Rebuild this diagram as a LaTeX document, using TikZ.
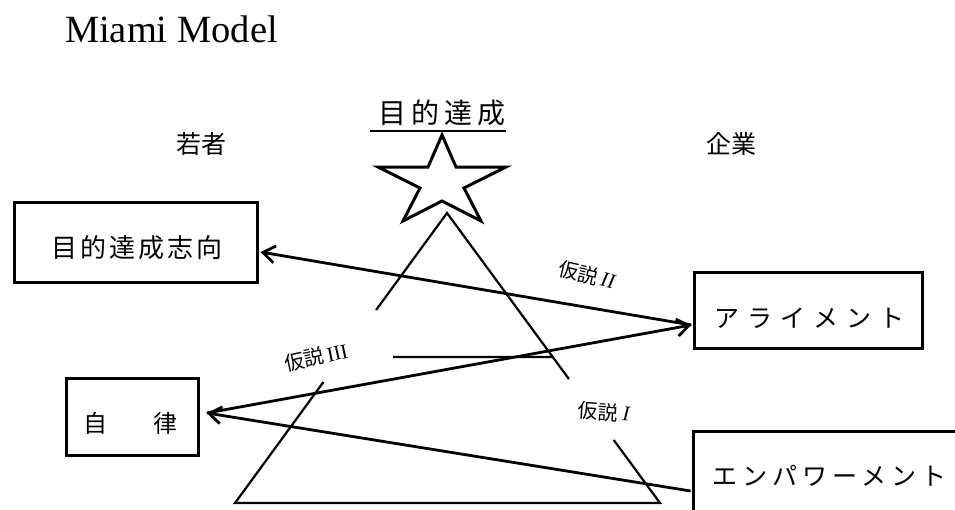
\documentclass[tikz,border=0pt]{standalone}
\usepackage{fontspec}
\setmainfont{Liberation Serif}
\newfontfamily\jp{Noto Sans CJK JP}
\usetikzlibrary{arrows.meta,calc}

\tikzset{
  box/.style={draw, rectangle, line width=3pt, inner sep=0pt, outer sep=0pt},
  arr/.style={line width=2.8pt, -{Straight Barb[length=12pt,width=17pt]}},
  tri/.style={line width=2.2pt},
  lab/.style={inner sep=0pt, outer sep=0pt},
  hyp/.style={lab, font=\jp\fontsize{20}{20}\selectfont}
}
% roman numerals of the hypothesis labels
\newcommand{\hnum}[1]{{\rmfamily\fontsize{21}{21}\selectfont #1}}

\begin{document}
\begin{tikzpicture}[x=1pt,y=-1pt]
\useasboundingbox (0,0) rectangle (955,509);
\clip (0,0) rectangle (955,509);

% title
\node[lab, anchor=base west, font=\fontsize{38.5}{40}\selectfont] (title) at (65,42) {Miami Model};

% column headings
\node[lab, font=\jp\fontsize{25}{25}\selectfont] (youth) at (201.5,144) {若者};
\node[lab, font=\jp\fontsize{25}{25}\selectfont] (firm) at (731.5,144) {企業};

% goal heading with underline
\node[lab, font=\jp\fontsize{28}{28}\selectfont\addfontfeature{LetterSpace=19}] (goalT) at (442,112.5) {目的達成};
\draw[line width=2pt] (370,131) -- (506,131);

% star
\draw[line width=3pt] (442,135) -- (456,167) -- (506,167) -- (464,188) -- (481,221)
  -- (442,201) -- (403,221) -- (420,188) -- (378,167) -- (428,167) -- cycle;

% pyramid with open sides
\coordinate (apex) at (447,213);
\coordinate (bl) at (235,503);
\coordinate (br) at (660,503);
\draw[tri] ($(apex)!0.3345!(bl)$) -- (apex) -- ($(apex)!0.5724!(br)$);
\draw[tri] ($(apex)!0.5828!(bl)$) -- (bl) -- (br) -- ($(apex)!0.7828!(br)$);
\draw[tri] (393,357) -- ($(apex)!0.4966!(br)$);

% boxes
\node[box, minimum width=243pt, minimum height=80.4pt] (goal) at (136,242.5) {};
\node[lab, font=\jp\fontsize{26}{26}\selectfont\addfontfeature{LetterSpace=11}] (goalTxt) at (137,247.5) {目的達成志向};

\node[box, minimum width=227.7pt, minimum height=75.6pt] (align) at (808.2,310.5) {};
\node[lab, font=\jp\fontsize{25}{25}\selectfont\addfontfeature{LetterSpace=32}] (alignTxt) at (809,318.5) {アライメント};

\node[box, minimum width=132.3pt, minimum height=76.7pt] (auto) at (132.2,416.7) {};
\node[lab, font=\jp\fontsize{24}{24}\selectfont] (autoTxt) at (130.5,423) {自\hspace{46pt}律};

\node[box, minimum width=281.3pt, minimum height=100pt] (emp) at (834.3,481) {};
\node[lab, font=\jp\fontsize{25}{25}\selectfont\addfontfeature{LetterSpace=20}] (empTxt) at (829,476) {エンパワーメント};

% arrow end points
\coordinate (alignIn) at ($(align.west)+(-3,14.5)$);
\coordinate (goalIn) at ($(goal.east)+(3,9.5)$);
\coordinate (autoIn) at ($(auto.east)+(8.5,-3.7)$);
\coordinate (empOut) at ($(emp.west)+(-3,10)$);

% hypotheses
\draw[arr] (alignIn) -- (goalIn);
\draw[arr] (autoIn) -- (alignIn);
\draw[arr] (empOut) -- (autoIn);

\node[hyp, rotate=-13] (h2) at (587,275) {仮説\,\hnum{\itshape II}};
\node[hyp, rotate=12] (h3) at (316,357) {仮説\,\hnum{III}};
\node[hyp, rotate=-4] (h1) at (604,412) {仮説\ \hnum{\itshape I}};
\end{tikzpicture}
\end{document}
